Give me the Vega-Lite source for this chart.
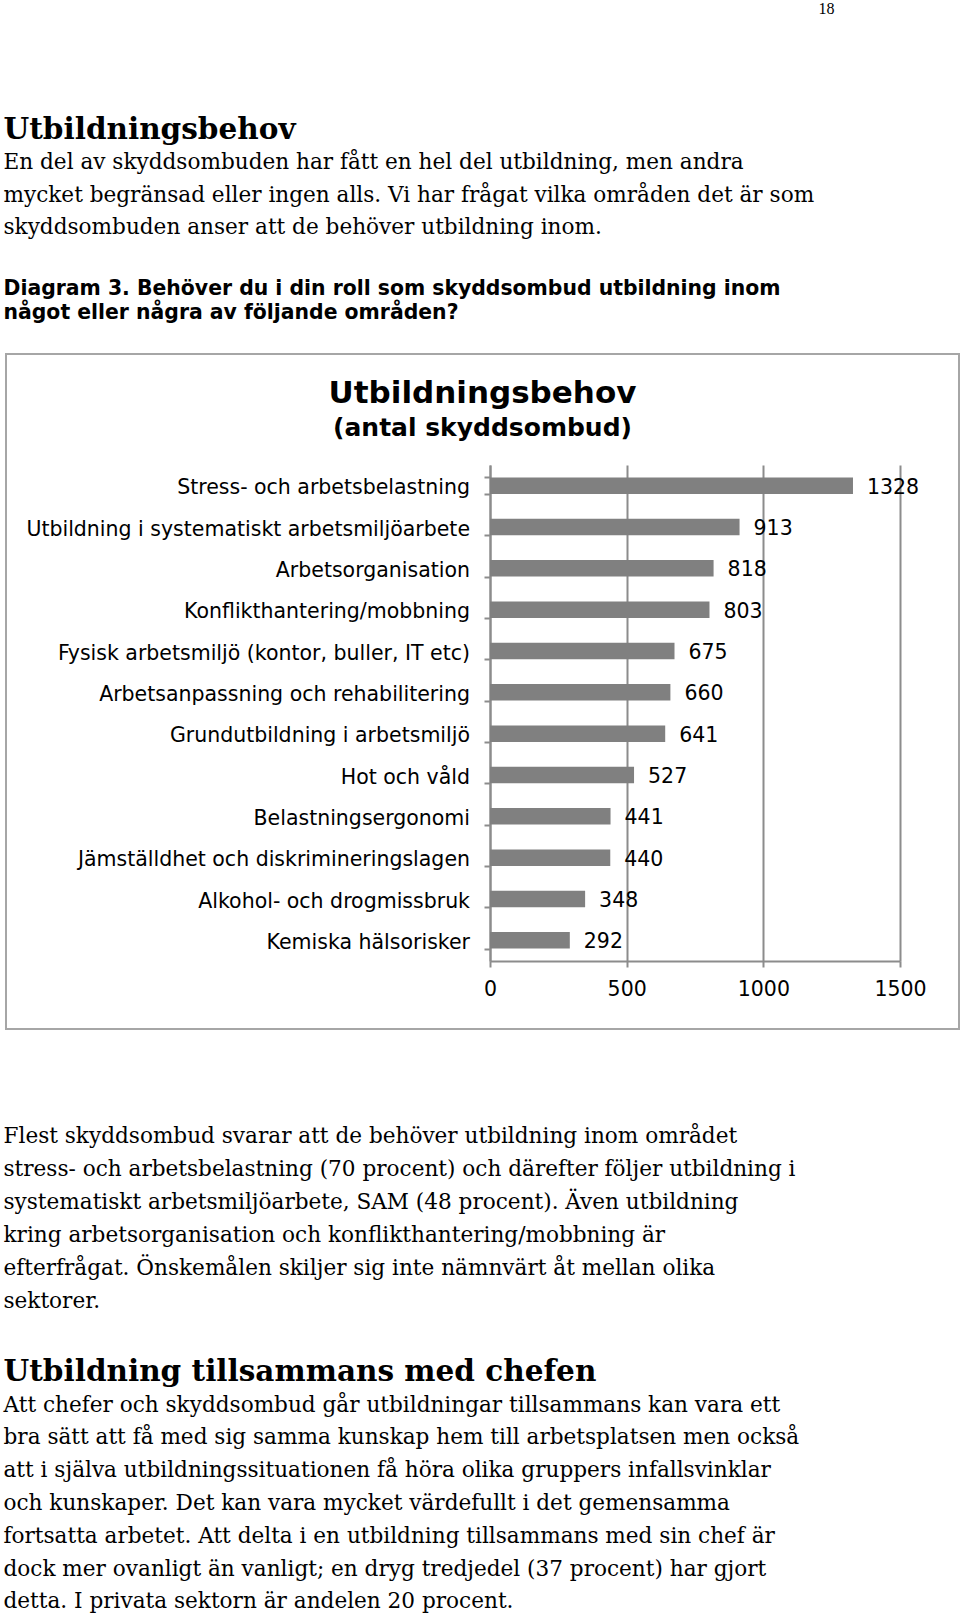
{
  "$schema": "https://vega.github.io/schema/vega-lite/v6.json",
  "padding": {"left": 3, "top": 0, "right": 0, "bottom": 0},
  "background": "white",
  "config": {
    "concat": {"spacing": 0},
    "title": {"color": "#000000", "subtitleColor": "#000000", "limit": 2000}
  },
  "title": {
    "text": "18", "anchor": "start", "dx": 815, "offset": 98.5,
    "font": "Liberation Serif", "fontSize": 16, "fontWeight": "normal"
  },
  "vconcat": [
    {
      "title": {
        "text": "Utbildning tillsammans med chefen",
        "subtitle": [
          "Att chefer och skyddsombud går utbildningar tillsammans kan vara ett",
          "bra sätt att få med sig samma kunskap hem till arbetsplatsen men också",
          "att i själva utbildningssituationen få höra olika gruppers infallsvinklar",
          "och kunskaper. Det kan vara mycket värdefullt i det gemensamma",
          "fortsatta arbetet. Att delta i en utbildning tillsammans med sin chef är",
          "dock mer ovanligt än vanligt; en dryg tredjedel (37 procent) har gjort",
          "detta. I privata sektorn är andelen 20 procent."
        ],
        "orient": "bottom", "anchor": "start", "offset": 45.3,
        "font": "DejaVu Serif", "fontSize": 29.5, "fontWeight": "bold",
        "subtitleFont": "DejaVu Serif", "subtitleFontSize": 21.6, "subtitleFontWeight": "normal",
        "subtitleLineHeight": 32.8, "subtitlePadding": 7.4
      },
      "vconcat": [
        {
          "title": {
            "text": [
              "Flest skyddsombud svarar att de behöver utbildning inom området",
              "stress- och arbetsbelastning (70 procent) och därefter följer utbildning i",
              "systematiskt arbetsmiljöarbete, SAM (48 procent). Även utbildning",
              "kring arbetsorganisation och konflikthantering/mobbning är",
              "efterfrågat. Önskemålen skiljer sig inte nämnvärt åt mellan olika",
              "sektorer."
            ],
            "orient": "bottom", "anchor": "start", "offset": 95.9,
            "font": "DejaVu Serif", "fontSize": 21.6, "fontWeight": "normal", "lineHeight": 33
          },
          "vconcat": [
            {
              "title": {
                "text": "Utbildningsbehov",
                "subtitle": [
                  "En del av skyddsombuden har fått en hel del utbildning, men andra",
                  "mycket begränsad eller ingen alls. Vi har frågat vilka områden det är som",
                  "skyddsombuden anser att de behöver utbildning inom."
                ],
                "anchor": "start", "offset": 39.1,
                "font": "DejaVu Serif", "fontSize": 29.5, "fontWeight": "bold",
                "subtitleFont": "DejaVu Serif", "subtitleFontSize": 21.6, "subtitleFontWeight": "normal",
                "subtitleLineHeight": 32.5, "subtitlePadding": 6.4
              },
              "vconcat": [
                {
                  "title": {
                    "text": [
                      "Diagram 3. Behöver du i din roll som skyddsombud utbildning inom",
                      "något eller några av följande områden?"
                    ],
                    "anchor": "start", "dx": -1.5, "offset": 19.6,
                    "font": "DejaVu Sans", "fontSize": 20.4, "fontWeight": "bold", "lineHeight": 24
                  },
                  "vconcat": [
                    {
                      "width": 953,
                      "height": 675,
                      "view": {"stroke": "#a6a6a6", "strokeWidth": 2, "fill": "white"},
                      "title": {
                        "text": "Utbildningsbehov",
                        "subtitle": "(antal skyddsombud)",
                        "frame": "group", "anchor": "middle", "offset": -98.2,
                        "font": "DejaVu Sans", "fontSize": 31, "fontWeight": "bold",
                        "subtitleFont": "DejaVu Sans", "subtitleFontSize": 25, "subtitleFontWeight": "bold",
                        "subtitlePadding": 6.5
                      },
                      "data": {
                        "values": [
                          {"area": "Stress- och arbetsbelastning", "count": 1328},
                          {"area": "Utbildning i systematiskt arbetsmiljöarbete", "count": 913},
                          {"area": "Arbetsorganisation", "count": 818},
                          {"area": "Konflikthantering/mobbning", "count": 803},
                          {"area": "Fysisk arbetsmiljö (kontor, buller, IT etc)", "count": 675},
                          {"area": "Arbetsanpassning och rehabilitering", "count": 660},
                          {"area": "Grundutbildning i arbetsmiljö", "count": 641},
                          {"area": "Hot och våld", "count": 527},
                          {"area": "Belastningsergonomi", "count": 441},
                          {"area": "Jämställdhet och diskrimineringslagen", "count": 440},
                          {"area": "Alkohol- och drogmissbruk", "count": 348},
                          {"area": "Kemiska hälsorisker", "count": 292}
                        ]
                      },
                      "encoding": {
                        "y": {
                          "field": "area", "type": "nominal", "sort": null,
                          "scale": {"range": [111, 607], "paddingInner": 0.6, "paddingOuter": 0.3},
                          "axis": {
                            "orient": "left", "offset": -484, "title": null,
                            "domainColor": "#8c8c8c", "domainWidth": 2,
                            "tickColor": "#8c8c8c", "tickWidth": 2, "tickSize": 6, "tickBand": "extent",
                            "labelFont": "DejaVu Sans", "labelFontSize": 20.5, "labelColor": "#000000",
                            "labelPadding": 14.5, "labelLimit": 700, "labelOffset": 2
                          }
                        }
                      },
                      "layer": [
                        {
                          "mark": {"type": "bar", "color": "#808080"},
                          "encoding": {
                            "x": {
                              "field": "count", "type": "quantitative",
                              "scale": {"domain": [0, 1500], "range": [484, 894], "nice": false},
                              "axis": {
                                "orient": "top", "grid": true, "labels": false, "ticks": false, "domain": false,
                                "values": [0, 500, 1000, 1500], "title": null,
                                "gridColor": "#8c8c8c", "gridWidth": 2, "gridOpacity": 1
                              }
                            }
                          }
                        },
                        {
                          "mark": {"type": "text", "align": "left", "baseline": "middle", "dx": 14, "dy": 2,
                                   "font": "DejaVu Sans", "fontSize": 20.5, "color": "#000000"},
                          "encoding": {
                            "x": {
                              "field": "count", "type": "quantitative",
                              "axis": {
                                "orient": "bottom", "offset": -68, "grid": false, "title": null,
                                "values": [0, 500, 1000, 1500], "format": "d",
                                "domainColor": "#8c8c8c", "domainWidth": 2,
                                "tickColor": "#8c8c8c", "tickWidth": 2, "tickSize": 6,
                                "labelFont": "DejaVu Sans", "labelFontSize": 20.5, "labelColor": "#000000",
                                "labelPadding": 12.5, "labelFlush": false
                              }
                            },
                            "text": {"field": "count", "type": "quantitative"}
                          }
                        }
                      ],
                      "resolve": {"axis": {"x": "independent"}}
                    }
                  ]
                }
              ]
            }
          ]
        }
      ]
    }
  ]
}
